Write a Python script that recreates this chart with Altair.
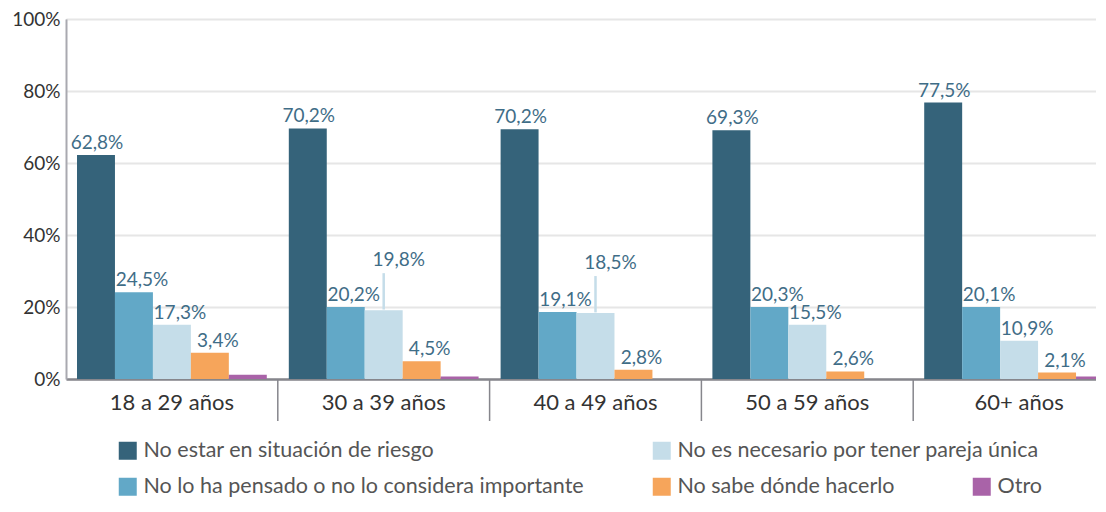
import altair as alt
import pandas as pd

groups = ["18 a 29 años", "30 a 39 años", "40 a 49 años", "50 a 59 años", "60+ años"]
series = [
    "No estar en situación de riesgo",
    "No lo ha pensado o no lo considera importante",
    "No es necesario por tener pareja única",
    "No sabe dónde hacerlo",
    "Otro",
]
colors = ["#35637a", "#62a8c7", "#c5dde9", "#f6a55b", "#a963a8"]

# bar heights as drawn (%)
riesgo = [62.2, 69.6, 69.4, 69.1, 76.8]
no_pensado = [24.1, 20.0, 18.6, 20.0, 20.0]
no_necesario = [15.1, 19.1, 18.3, 15.1, 10.6]
no_sabe = [7.3, 4.9, 2.6, 2.1, 1.8]
otro = [1.2, 0.7, 0.0, 0.0, 0.7]

# printed value labels
riesgo_lbl = ["62,8%", "70,2%", "70,2%", "69,3%", "77,5%"]
no_pensado_lbl = ["24,5%", "20,2%", "19,1%", "20,3%", "20,1%"]
no_necesario_lbl = ["17,3%", "19,8%", "18,5%", "15,5%", "10,9%"]
no_sabe_lbl = ["3,4%", "4,5%", "2,8%", "2,6%", "2,1%"]
otro_lbl = ["", "", "", "", ""]

# labels drawn raised with a leader line
callouts = [("30 a 39 años", series[2]), ("40 a 49 años", series[2])]

values = [riesgo, no_pensado, no_necesario, no_sabe, otro]
labels = [riesgo_lbl, no_pensado_lbl, no_necesario_lbl, no_sabe_lbl, otro_lbl]

rows = []
for si, s in enumerate(series):
    for gi, g in enumerate(groups):
        rows.append({
            "group": g,
            "series": s,
            "first": si == 0,
            "value": values[si][gi],
            "label": labels[si][gi],
            "callout": (g, s) in callouts,
        })
df = pd.DataFrame(rows)
sep_df = pd.DataFrame({"group": groups[1:]})

FONT = "Lato"
PLOT_H = 360

x_scale = alt.Scale(domain=groups, range=[0, 1059], paddingInner=0, paddingOuter=0)
x_axis = alt.Axis(
    title=None, labelAngle=0, ticks=False, labelFontSize=22, labelColor="#333333",
    labelPadding=13, domainColor="#86868c", domainWidth=2.5, labelFont=FONT,
)
x_enc = alt.X("group:N", sort=groups, scale=x_scale, axis=x_axis)
xo_enc = alt.XOffset(
    "series:N", sort=series,
    scale=alt.Scale(domain=series, paddingInner=0, paddingOuter=0.29),
)
y_axis = alt.Axis(
    title=None, values=[0, 20, 40, 60, 80, 100], labelExpr="datum.value + '%'",
    ticks=False, domainColor="#a9a9b0", domainWidth=2, gridColor="#e6e6e6",
    gridWidth=2, labelFontSize=19, labelColor="#333333", labelPadding=6, labelFont=FONT,
)
y_scale = alt.Scale(domain=[0, 100])

base = alt.Chart(df)


def bar_layer(idx, lx, ly):
    dom = [series[i] for i in idx]
    rng = [colors[i] for i in idx]
    return base.transform_filter(
        alt.FieldOneOfPredicate(field="series", oneOf=dom)
    ).mark_bar().encode(
        x=x_enc,
        xOffset=xo_enc,
        y=alt.Y("value:Q", scale=y_scale, axis=y_axis),
        color=alt.Color(
            "series:N",
            scale=alt.Scale(domain=dom, range=rng),
            legend=alt.Legend(
                title=None, orient="none", legendX=lx, legendY=ly, direction="vertical",
                symbolType="square", symbolSize=324, symbolStrokeWidth=0,
                labelFontSize=21.5, labelColor="#555555", labelFont=FONT,
                rowPadding=13, labelOffset=5, padding=0, labelLimit=700,
            ),
        ),
    )


bars1 = bar_layer([0, 1], 51, 421)
bars2 = bar_layer([2, 3], 585, 421)
bars3 = bar_layer([4], 905, 457)


def label_layer(flt, dx):
    return base.transform_filter(flt).mark_text(
        align="center", baseline="alphabetic", dx=dx, dy=-6, fontSize=19,
        color="#3f6d87", font=FONT,
    ).encode(
        x=x_enc, xOffset=xo_enc,
        y=alt.Y("value:Q", scale=y_scale, axis=y_axis),
        text="label:N",
    )


text_first = label_layer("datum.label != '' && !datum.callout && datum.first", 1)
text_rest = label_layer("datum.label != '' && !datum.callout && !datum.first", 8)

text_callout = base.transform_filter("datum.callout").transform_calculate(
    ly="datum.value + 12.3"
).mark_text(
    align="center", baseline="alphabetic", dx=15, fontSize=19,
    color="#3f6d87", font=FONT,
).encode(
    x=x_enc, xOffset=xo_enc,
    y=alt.Y("ly:Q", scale=y_scale, axis=y_axis),
    text="label:N",
)

leader = base.transform_filter("datum.callout").transform_calculate(
    y1="datum.value + 0.2", y2="datum.value + 10.3"
).mark_rule(color="#c5dde9", strokeWidth=2.5).encode(
    x=x_enc, xOffset=xo_enc,
    y=alt.Y("y1:Q", scale=y_scale, axis=y_axis),
    y2="y2:Q",
)

separators = alt.Chart(sep_df).mark_rule(color="#86868c", strokeWidth=1.5).encode(
    x=alt.X("group:N", sort=groups, bandPosition=0, scale=x_scale, axis=x_axis),
    y=alt.value(PLOT_H),
    y2=alt.value(PLOT_H + 42),
)

chart = alt.layer(
    bars1, bars2, bars3, leader, text_first, text_rest, text_callout, separators
).resolve_scale(color="independent").properties(
    width=1030,
    height=PLOT_H,
    autosize=alt.AutoSizeParams(type="none"),
    padding={"left": 58, "top": 11, "right": 0, "bottom": 121},
).configure_view(stroke=None).configure(font=FONT)

chart.save("out.html", embed_options={"renderer": "svg", "actions": False})
